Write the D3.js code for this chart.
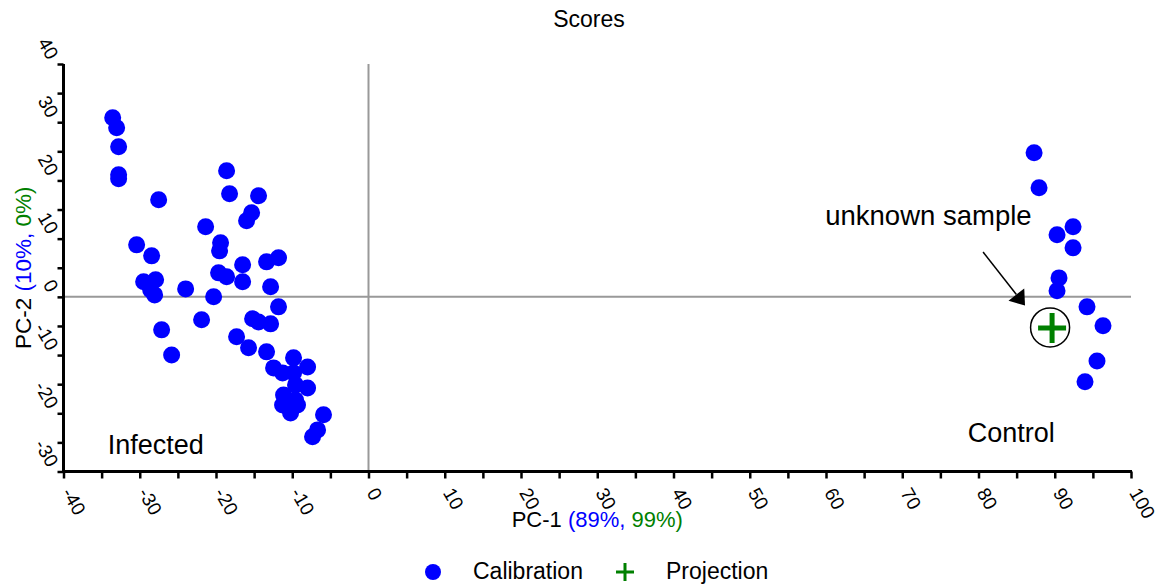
<!DOCTYPE html>
<html>
<head>
<meta charset="utf-8">
<script src="https://cdn.jsdelivr.net/npm/d3@7"></script>
<style>
  html, body { margin: 0; padding: 0; background: #fff; }
  svg { display: block; font-family: "Liberation Sans", Arial, sans-serif; }
</style>
</head>
<body>
<svg id="chart" width="1163" height="588"></svg>
<script>
// ---- data ----
const calibrationX = [
  -33.55, -33.03, -32.77, -32.77, -32.77, -27.52, -18.61, -18.22, -14.42, -15.33,
  -15.99, -21.36, -19.40, -19.53, -30.41, -28.44, -11.80, -13.37, -16.51, -19.66,
  -18.61, -16.51, -29.49, -27.92, -28.57, -28.05, -23.98, -12.84, -20.31, -11.80,
  -21.89, -27.13, -15.20, -14.42, -12.84, -17.30, -15.73, -25.82, -13.37, -12.45,
  -11.27, -9.83, -7.99, -9.83, -7.99, -9.57, -11.14, -11.27, -9.57, -10.22,
  -9.31, -5.90, -6.68, -7.34,
  87.29, 87.94, 92.40, 90.30, 92.40, 90.56, 90.30, 94.23, 96.33, 95.54, 93.97
];
const calibrationY = [
  30.76, 29.04, 25.77, 20.96, 20.27, 16.67, 21.65, 17.70, 17.35, 14.43,
  13.06, 12.03, 9.28, 7.90, 8.93, 7.04, 6.70, 6.01, 5.50, 4.12,
  3.44, 2.58, 2.58, 2.92, 1.20, 0.34, 1.37, 1.72, 0.00, -1.72,
  -3.95, -5.67, -3.78, -4.30, -4.64, -6.87, -8.76, -9.97, -9.45, -12.20,
  -13.06, -10.48, -12.03, -13.06, -15.64, -15.12, -16.84, -18.56, -17.70, -19.93,
  -18.56, -20.27, -22.85, -24.05,
  24.74, 18.73, 12.03, 10.65, 8.42, 3.26, 1.03, -1.72, -4.98, -11.00, -14.60
];
const projectionX = [89.65];
const projectionY = [-5.33];
const xTickValues = [-40, -35, -30, -25, -20, -15, -10, -5, 0, 5, 10, 15, 20, 25, 30, 35, 40, 45, 50, 55, 60, 65, 70, 75, 80, 85, 90, 95, 100];
const yTickValues = [-30, -25, -20, -15, -10, -5, 0, 5, 10, 15, 20, 25, 30, 35, 40];
const annotationLabels = ["Infected", "Control", "unknown sample"];
const annotationX = [-34.2, 78.6, 59.9];
const annotationY = [-27.0, -24.9, 12.4];
const arrowFrom = [80.6, 7.7];
const arrowTo = [86.1, -1.5];

// ---- layout ----
const svg = d3.select("#chart");
const x = d3.scaleLinear().domain([-40, 100]).range([63.5, 1131]);
const y = d3.scaleLinear().domain([-30, 40]).range([471.5, 64]);
const BLUE = "#0000ff", GREEN = "#008000";
const FONT = "Liberation Sans, Arial, sans-serif";

// zero lines
svg.append("line")
  .attr("x1", x(0)).attr("x2", x(0)).attr("y1", y(40)).attr("y2", y(-30))
  .attr("stroke", "#999").attr("stroke-width", 2);
svg.append("line")
  .attr("x1", x(-40)).attr("x2", x(100)).attr("y1", y(0)).attr("y2", y(0))
  .attr("stroke", "#999").attr("stroke-width", 2);

// x axis
const gx = svg.append("g").attr("transform", `translate(0,${y(-30)})`)
  .call(d3.axisBottom(x).tickValues(xTickValues).tickSize(7).tickSizeOuter(0)
    .tickFormat(d => d % 10 === 0 ? String(d) : ""));
gx.select(".domain").attr("stroke", "#000").attr("stroke-width", 3).attr("d", `M${x(-40) - 1.5},0H${x(100) + 1}`);
gx.selectAll(".tick line").attr("stroke", "#000").attr("stroke-width", 2.5);
gx.selectAll(".tick text")
  .attr("font-size", 19).attr("fill", "#000").attr("font-family", FONT)
  .attr("text-anchor", "start").attr("x", 3).attr("y", 18).attr("dy", "0.35em")
  .attr("transform", "rotate(60,3,18)");

// y axis
const gy = svg.append("g").attr("transform", `translate(${x(-40)},0)`)
  .call(d3.axisLeft(y).tickValues(yTickValues).tickSize(6).tickSizeOuter(0)
    .tickFormat(d => d % 10 === 0 ? String(d) : ""));
gy.select(".domain").attr("stroke", "#000").attr("stroke-width", 3).attr("d", `M0,${y(40)}V${y(-30) + 1.5}`);
gy.selectAll(".tick line").attr("stroke", "#000").attr("stroke-width", 2.5);
gy.selectAll(".tick text")
  .attr("font-size", 19).attr("fill", "#000").attr("font-family", FONT)
  .attr("text-anchor", "end").attr("x", -10).attr("y", -7).attr("dy", "0.35em")
  .attr("transform", "rotate(60,-10,-7)");

// title
svg.append("text").attr("x", 589).attr("y", 27).attr("text-anchor", "middle")
  .attr("font-size", 23).text("Scores");

// x axis title
const xt = svg.append("text").attr("x", x(30)).attr("y", 527).attr("text-anchor", "middle").attr("font-size", 22);
xt.append("tspan").attr("fill", "#000").text("PC-1 ");
xt.append("tspan").attr("fill", BLUE).text("(89%,");
xt.append("tspan").attr("fill", GREEN).text(" 99%)");

// y axis title
const yt = svg.append("text").attr("transform", `translate(31,${y(5)}) rotate(-90)`)
  .attr("text-anchor", "middle").attr("font-size", 22.5);
yt.append("tspan").attr("fill", "#000").text("PC-2 ");
yt.append("tspan").attr("fill", BLUE).text("(10%,");
yt.append("tspan").attr("fill", GREEN).text(" 0%)");

// calibration points
const calib = calibrationX.map((v, i) => ({ x: v, y: calibrationY[i] }));
svg.append("g").selectAll("circle").data(calib).join("circle")
  .attr("cx", d => x(d.x)).attr("cy", d => y(d.y)).attr("r", 8.5).attr("fill", BLUE);

// projection
const proj = projectionX.map((v, i) => ({ x: v, y: projectionY[i] }));
const pg = svg.append("g").selectAll("g").data(proj).join("g")
  .attr("transform", d => `translate(${x(d.x)},${y(d.y)})`);
pg.append("circle").attr("cx", -2).attr("cy", -0.5).attr("r", 19.5).attr("fill", "none").attr("stroke", "#000").attr("stroke-width", 1.5);
pg.append("path").attr("d", "M-14,0H14M0,-15V15").attr("stroke", GREEN).attr("stroke-width", 5).attr("fill", "none");

// annotations
svg.append("g").selectAll("text").data(annotationLabels).join("text")
  .attr("x", (d, i) => x(annotationX[i])).attr("y", (d, i) => y(annotationY[i]))
  .attr("font-size", (d, i) => i === 2 ? 27.5 : 27).attr("fill", "#000").text(d => d);

// arrow
{
  const x1 = x(arrowFrom[0]), y1 = y(arrowFrom[1]);
  const x2 = x(arrowTo[0]), y2 = y(arrowTo[1]);
  const len = Math.hypot(x2 - x1, y2 - y1);
  const ux = (x2 - x1) / len, uy = (y2 - y1) / len;
  const L = 14, W = 10;
  const bx = x2 - ux * L, by = y2 - uy * L;
  svg.append("line").attr("x1", x1).attr("y1", y1).attr("x2", bx).attr("y2", by)
    .attr("stroke", "#000").attr("stroke-width", 1.5);
  svg.append("path")
    .attr("d", `M${x2},${y2}L${bx - uy * W},${by + ux * W}L${bx + uy * W},${by - ux * W}Z`)
    .attr("fill", "#000");
}

// legend
const lg = svg.append("g");
lg.append("circle").attr("cx", 433).attr("cy", 572).attr("r", 8).attr("fill", BLUE);
lg.append("text").attr("x", 473).attr("y", 579).attr("font-size", 23).text("Calibration");
lg.append("path").attr("d", "M616,572H634M625,563V581").attr("stroke", GREEN).attr("stroke-width", 3);
lg.append("text").attr("x", 666).attr("y", 579).attr("font-size", 23).text("Projection");
</script>
</body>
</html>
